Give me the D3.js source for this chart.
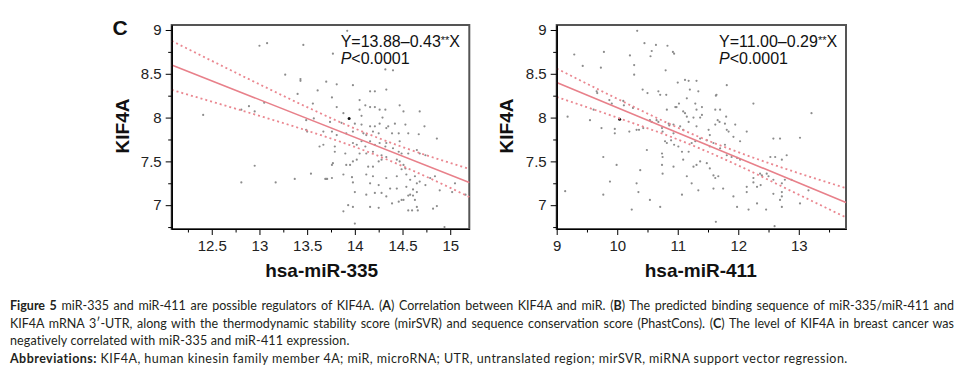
<!DOCTYPE html>
<html>
<head>
<meta charset="utf-8">
<script src="https://d3js.org/d3.v7.min.js"></script>
<style>
body { margin: 0; background: #fff; }
#chart { position: relative; width: 957px; height: 367px; overflow: hidden; }
svg { position: absolute; left: 0; top: 0; }
.caption { position: absolute; left: 10px; top: 297px; width: 944px; font-family: Lato, "Open Sans", sans-serif; font-size: 12.5px; line-height: 17.7px; color: #231f20; }
.caption div { white-space: nowrap; }
.caption .just { text-align: justify; text-align-last: justify; white-space: normal; }
.caption .l3 { letter-spacing: 0.15px; }
.caption .l4 { letter-spacing: 0.45px; }
.caption b { font-weight: 700; }
.tick text { font-family: "Liberation Sans", Arial, sans-serif; font-size: 15px; fill: #222; }
</style>
</head>
<body>
<div id="chart"></div>
<script>
// KIF4A vs hsa-miR-335 (x = miR-335, y = KIF4A)
var mir335Points = [
  [13.00, 8.82], [13.08, 8.85], [13.46, 8.83], [13.27, 8.49], [13.43, 8.44], [13.43, 8.42],
  [13.61, 8.31], [12.41, 8.03], [12.81, 8.09], [13.05, 8.17], [12.95, 7.45], [12.81, 7.26],
  [13.17, 7.26], [13.37, 7.30], [13.54, 7.36], [13.63, 7.67], [13.49, 7.97], [13.49, 7.86],
  [13.50, 7.84], [13.57, 7.99], [13.70, 8.41], [13.40, 8.27], [13.56, 8.16], [12.89, 8.13],
  [12.95, 8.07], [13.69, 7.30], [13.71, 7.30],
  [13.92, 8.99], [13.77, 8.73], [14.32, 8.55], [14.40, 8.54], [13.81, 8.38], [13.98, 8.37],
  [14.16, 8.30], [14.21, 8.30], [14.33, 8.32], [14.05, 8.20], [14.11, 8.14], [14.16, 8.12],
  [14.21, 8.12], [14.26, 8.09], [14.32, 8.09], [14.05, 8.09], [13.76, 8.23], [13.81, 8.12],
  [13.88, 8.05], [14.47, 8.14], [14.51, 8.07], [14.68, 8.07], [14.07, 8.02], [14.29, 8.00],
  [13.74, 7.95], [13.86, 7.94], [14.00, 7.93], [14.07, 7.92], [14.16, 7.90], [14.21, 7.90],
  [14.26, 7.93], [14.35, 7.90], [14.42, 7.93], [14.53, 7.92], [14.73, 7.90], [13.67, 7.84],
  [13.76, 7.84], [13.81, 7.80], [13.91, 7.82], [13.98, 7.84], [14.09, 7.82], [14.12, 7.80],
  [14.19, 7.84], [14.25, 7.82], [14.33, 7.88], [14.39, 7.82], [14.46, 7.82], [14.56, 7.82],
  [14.67, 7.81], [14.86, 7.76], [13.67, 7.69], [13.79, 7.67], [13.79, 7.61], [13.90, 7.59],
  [13.98, 7.71], [14.02, 7.69], [14.07, 7.73], [14.11, 7.67], [14.16, 7.73], [14.21, 7.69],
  [14.26, 7.71], [14.32, 7.67], [14.33, 7.71], [14.40, 7.65], [14.47, 7.73], [14.46, 7.61],
  [14.49, 7.59], [14.56, 7.59], [14.65, 7.63], [14.68, 7.59], [14.74, 7.57], [14.05, 7.59],
  [14.12, 7.59], [14.19, 7.61], [14.28, 7.57], [14.33, 7.55], [13.98, 7.50], [14.02, 7.52],
  [13.91, 7.46], [13.95, 7.46], [14.14, 7.44], [14.19, 7.44], [14.25, 7.50], [14.28, 7.52],
  [14.44, 7.52], [14.47, 7.50], [14.51, 7.46], [13.77, 7.48], [13.76, 7.46], [14.49, 7.41],
  [14.53, 7.42], [13.70, 7.30], [13.76, 7.31], [13.88, 7.35], [13.97, 7.32], [13.98, 7.26],
  [14.12, 7.35], [14.19, 7.33], [14.33, 7.31], [14.44, 7.33], [14.54, 7.35], [14.63, 7.33],
  [14.58, 7.29], [14.65, 7.25], [14.68, 7.27], [14.16, 7.25], [14.25, 7.23], [14.37, 7.19],
  [14.44, 7.19], [14.54, 7.21], [14.61, 7.18], [14.65, 7.15], [14.00, 7.15], [14.12, 7.12],
  [14.21, 7.14], [14.28, 7.14], [14.33, 7.10], [14.46, 7.04], [14.51, 7.06], [14.56, 7.11],
  [14.58, 7.12], [14.61, 7.11], [14.63, 7.06], [14.74, 7.23], [14.79, 7.31], [14.84, 7.33],
  [14.89, 7.17], [15.02, 7.15], [15.05, 7.25], [15.16, 7.12], [13.88, 6.93], [13.93, 7.00],
  [13.98, 6.98], [14.16, 6.98], [14.25, 6.97], [14.39, 7.02], [14.49, 7.06], [14.56, 6.94],
  [14.60, 6.94], [14.65, 6.98], [14.66, 6.94], [14.82, 6.96], [14.86, 6.99], [14.00, 6.79],
  [14.94, 6.75]
];
var mir335Marked = [[13.94, 7.99]];

// KIF4A vs hsa-miR-411
var mir411Points = [
  [10.33, 8.99], [9.29, 8.72], [9.78, 8.75], [9.43, 8.59], [9.73, 8.57], [10.21, 8.71],
  [10.28, 8.60], [10.28, 8.49], [10.45, 8.85], [10.55, 8.70], [10.57, 8.76], [10.64, 8.83],
  [10.83, 8.82], [10.92, 8.75], [10.94, 8.73], [10.80, 8.54], [9.66, 8.30], [9.67, 8.28],
  [9.87, 8.20], [9.91, 8.16], [10.10, 8.19], [10.11, 8.14], [10.26, 8.11], [10.42, 8.32],
  [10.50, 8.28], [10.68, 8.30], [10.71, 8.26], [10.81, 8.26], [11.00, 8.40], [11.12, 8.43],
  [11.18, 8.42], [11.31, 8.42], [11.20, 8.32], [11.34, 8.30], [11.02, 8.16], [11.15, 8.22],
  [11.29, 8.16], [11.40, 8.12], [11.64, 8.26], [11.81, 8.37], [11.63, 8.25], [11.62, 8.09],
  [11.70, 8.09], [9.18, 8.01], [9.61, 8.09], [9.96, 7.87], [9.96, 7.82], [10.20, 7.84],
  [10.32, 7.86], [10.36, 7.86], [10.43, 7.88], [10.54, 7.97], [10.57, 7.95], [10.65, 7.97],
  [10.68, 7.95], [10.74, 7.88], [10.75, 7.84], [10.85, 7.93], [10.86, 7.91], [10.82, 8.09],
  [10.96, 8.12], [10.98, 8.12], [11.12, 8.05], [10.93, 7.92], [10.93, 7.82], [11.04, 7.90],
  [11.09, 7.86], [11.15, 8.01], [11.26, 8.00], [11.37, 8.00], [11.18, 7.95], [11.09, 8.07],
  [11.31, 7.90], [11.31, 8.09], [11.40, 8.03], [11.51, 7.86], [11.53, 7.80], [11.66, 7.97],
  [11.69, 7.95], [11.80, 8.01], [11.81, 7.86], [11.84, 7.84], [11.95, 7.92], [11.92, 7.78],
  [12.03, 7.73], [12.14, 7.84], [12.25, 8.16], [11.62, 7.92], [11.78, 7.93], [10.89, 7.74],
  [10.94, 7.69], [10.79, 7.73], [10.82, 7.71], [11.01, 7.67], [11.07, 7.61], [11.18, 7.61],
  [11.23, 7.71], [11.29, 7.73], [11.37, 7.76], [11.48, 7.74], [11.53, 7.67], [11.59, 7.71],
  [11.70, 7.65], [11.78, 7.69], [11.81, 7.57], [11.89, 7.55], [11.98, 7.54], [12.03, 7.52],
  [10.74, 7.59], [10.75, 7.55], [10.93, 7.44], [10.74, 7.46], [10.75, 7.36], [11.09, 7.52],
  [11.26, 7.44], [11.31, 7.46], [11.37, 7.50], [11.48, 7.48], [11.53, 7.42], [11.59, 7.34],
  [11.62, 7.31], [11.67, 7.33], [11.15, 7.33], [11.23, 7.25], [11.07, 7.12], [11.34, 7.17],
  [11.59, 7.19], [11.75, 7.19], [11.92, 7.10], [11.98, 6.98], [12.14, 7.21], [12.14, 7.15],
  [12.25, 7.31], [12.25, 7.26], [12.31, 7.21], [12.37, 7.23], [12.17, 6.95], [12.31, 7.02],
  [12.46, 6.95], [10.24, 6.95], [10.54, 7.06], [10.71, 6.98], [10.35, 7.15], [9.99, 7.46],
  [9.77, 7.55], [9.77, 7.12], [9.88, 7.27], [9.14, 7.16], [11.63, 6.81], [12.60, 6.76],
  [12.36, 7.36], [12.39, 7.34], [12.47, 7.36], [12.50, 7.33], [12.53, 7.55], [12.61, 7.55],
  [12.72, 7.52], [12.80, 7.57], [12.58, 7.29], [12.72, 7.25], [12.77, 7.29], [12.72, 7.15],
  [12.72, 7.10], [12.88, 7.29], [13.02, 7.02], [13.16, 7.17], [13.21, 8.05], [13.02, 7.77],
  [12.58, 7.13], [12.69, 7.06], [12.72, 6.98], [12.58, 7.76], [12.69, 7.76], [10.49, 7.63],
  [10.38, 7.40], [10.32, 7.25], [9.74, 7.88], [9.55, 7.97]
];
var mir411Marked = [[10.04, 7.98]];

// regression lines and 95% bands
var fitX335 = [12.08, 15.2];
var fitY335 = [8.60, 7.26];
var bandX335 = [12.08, 12.5, 13, 13.5, 14, 14.2, 14.5, 15, 15.2];
var upper335 = [8.876, 8.648, 8.38, 8.119, 7.875, 7.787, 7.664, 7.482, 7.414];
var lower335 = [8.316, 8.182, 8.02, 7.851, 7.665, 7.582, 7.446, 7.198, 7.094];

var fitX411 = [9, 13.78];
var fitY411 = [8.40, 7.03];
var bandX411 = [9, 10, 11, 11.35, 12, 13, 13.78];
var upper411 = [8.56, 8.215, 7.885, 7.78, 7.605, 7.365, 7.195];
var lower411 = [8.235, 8.0, 7.75, 7.652, 7.453, 7.12, 6.86];

// tick labels
var yTicks = [7, 7.5, 8, 8.5, 9];
var yMinor = [6.75, 7.25, 7.75, 8.25, 8.75];
var xTicks335 = [12.5, 13, 13.5, 14, 14.5, 15];
var xMinor335 = [12.25, 12.75, 13.25, 13.75, 14.25, 14.75];
var xTicks411 = [9, 10, 11, 12, 13];
var xMinor411 = [9.5, 10.5, 11.5, 12.5, 13.5];

var svgWidth = 957;
var svgHeight = 367;
var plotTop = 25;
var plotBottom = 229;

var svg = d3.select("#chart")
    .append("svg")
    .attr("width", svgWidth)
    .attr("height", svgHeight);

function drawPanel(p) {
    var xScale = d3.scaleLinear().domain(p.xDomain).range([p.left, p.right]);
    var yScale = d3.scaleLinear().domain([6.728, 9.057]).range([plotBottom, plotTop]);
    var g = svg.append("g");

    // grey box (top / right edges)
    g.append("rect")
        .attr("x", p.left).attr("y", plotTop)
        .attr("width", p.right - p.left).attr("height", plotBottom - plotTop)
        .attr("fill", "none")
        .attr("stroke", "#555")
        .attr("stroke-width", 2);

    // scatter
    g.selectAll(".dot")
        .data(p.points)
        .enter()
        .append("circle")
        .attr("class", "dot")
        .attr("cx", d => xScale(d[0]))
        .attr("cy", d => yScale(d[1]))
        .attr("r", 1.1)
        .attr("fill", "#8c8c8c");

    g.selectAll(".mark")
        .data(p.marked)
        .enter()
        .append("circle")
        .attr("class", "mark")
        .attr("cx", d => xScale(d[0]))
        .attr("cy", d => yScale(d[1]))
        .attr("r", 1.5)
        .attr("fill", "#111");

    var line = d3.line()
        .x(d => xScale(d[0]))
        .y(d => yScale(d[1]))
        .curve(d3.curveMonotoneX);

    [p.upper, p.lower].forEach(function (band) {
        g.append("path")
            .datum(p.bandX.map((x, i) => [x, band[i]]))
            .attr("d", line)
            .attr("fill", "none")
            .attr("stroke", "#ea8790")
            .attr("stroke-width", 1.8)
            .attr("stroke-dasharray", "2,3");
    });

    g.append("path")
        .datum(p.fitX.map((x, i) => [x, p.fitY[i]]))
        .attr("d", line)
        .attr("fill", "none")
        .attr("stroke", "#e8808a")
        .attr("stroke-width", 1.6);

    // axes
    var leftAxis = d3.axisLeft(yScale).tickValues(yTicks).tickSize(6).tickSizeOuter(0)
        .tickPadding(4).tickFormat(d => String(d));
    var leftMinor = d3.axisLeft(yScale).tickValues(yMinor).tickSize(3.5).tickSizeOuter(0).tickFormat("");
    var bottomAxis = d3.axisBottom(xScale).tickValues(p.xTicks).tickSize(6).tickSizeOuter(0)
        .tickPadding(5.5).tickFormat(d => String(d));
    var bottomMinor = d3.axisBottom(xScale).tickValues(p.xMinor).tickSize(3.5).tickSizeOuter(0).tickFormat("");

    g.append("g").attr("transform", `translate(${p.left}, 0)`).call(leftAxis);
    g.append("g").attr("transform", `translate(${p.left}, 0)`).call(leftMinor);
    g.append("g").attr("transform", `translate(0, ${plotBottom})`).call(bottomAxis);
    g.append("g").attr("transform", `translate(0, ${plotBottom})`).call(bottomMinor);
    g.selectAll(".domain").attr("stroke", "#000").attr("stroke-width", 1.2);
    g.selectAll(".tick line").attr("stroke", "#000");

    // axis titles
    g.append("text")
        .attr("transform", `translate(${p.yTitleX}, 126) rotate(-90)`)
        .attr("text-anchor", "middle")
        .style("font-family", "'Liberation Sans', Arial, sans-serif")
        .style("font-weight", "bold")
        .style("font-size", "19px")
        .attr("fill", "#111")
        .text("KIF4A");

    g.append("text")
        .attr("x", (p.left + p.right) / 2 + p.xTitleShift)
        .attr("y", 277)
        .attr("text-anchor", "middle")
        .style("font-family", "'Liberation Sans', Arial, sans-serif")
        .style("font-weight", "bold")
        .style("font-size", "19px")
        .attr("fill", "#111")
        .text(p.xTitle);

    // equation
    var eq = g.append("text")
        .attr("x", p.eqX).attr("y", 47)
        .style("font-family", "'Liberation Sans', Arial, sans-serif")
        .style("font-size", "16px")
        .attr("fill", "#111");
    eq.append("tspan").text(p.eq);
    eq.append("tspan").attr("dy", -3).style("font-size", "11px").text("**");
    eq.append("tspan").attr("dy", 3).text("X");

    var pv = g.append("text")
        .attr("x", p.eqX).attr("y", 64)
        .style("font-family", "'Liberation Sans', Arial, sans-serif")
        .style("font-size", "16px")
        .attr("fill", "#111");
    pv.append("tspan").style("font-style", "italic").text("P");
    pv.append("tspan").text("<0.0001");
}

drawPanel({
    left: 171.7, right: 469.3, xDomain: [12.08, 15.2],
    points: mir335Points, marked: mir335Marked,
    fitX: fitX335, fitY: fitY335, bandX: bandX335, upper: upper335, lower: lower335,
    xTicks: xTicks335, xMinor: xMinor335,
    yTitleX: 128.5, xTitle: "hsa-miR-335", xTitleShift: 1.2,
    eq: "Y=13.88\u20130.43", eqX: 340.7
});

drawPanel({
    left: 556.7, right: 846, xDomain: [9, 13.78],
    points: mir411Points, marked: mir411Marked,
    fitX: fitX411, fitY: fitY411, bandX: bandX411, upper: upper411, lower: lower411,
    xTicks: xTicks411, xMinor: xMinor411,
    yTitleX: 512.5, xTitle: "hsa-miR-411", xTitleShift: -0.6,
    eq: "Y=11.00\u20130.29", eqX: 719
});

// panel letter
svg.append("text")
    .attr("x", 112.5).attr("y", 35)
    .style("font-family", "'Liberation Sans', Arial, sans-serif")
    .style("font-weight", "bold")
    .style("font-size", "21px")
    .attr("fill", "#111")
    .text("C");

// figure caption
var captionLines = [
    { cls: "just", html: "<b>Figure 5</b> miR-335 and miR-411 are possible regulators of KIF4A. (<b>A</b>) Correlation between KIF4A and miR. (<b>B</b>) The predicted binding sequence of miR-335/miR-411 and" },
    { cls: "just", html: "KIF4A mRNA 3\u2032-UTR, along with the thermodynamic stability score (mirSVR) and sequence conservation score (PhastCons). (<b>C</b>) The level of KIF4A in breast cancer was" },
    { cls: "l3", html: "negatively correlated with miR-335 and miR-411 expression." },
    { cls: "l4", html: "<b>Abbreviations:</b> KIF4A, human kinesin family member 4A; miR, microRNA; UTR, untranslated region; mirSVR, miRNA support vector regression." }
];

d3.select("#chart").append("div")
    .attr("class", "caption")
    .selectAll("div")
    .data(captionLines)
    .enter()
    .append("div")
    .attr("class", d => d.cls)
    .html(d => d.html);
</script>
</body>
</html>
